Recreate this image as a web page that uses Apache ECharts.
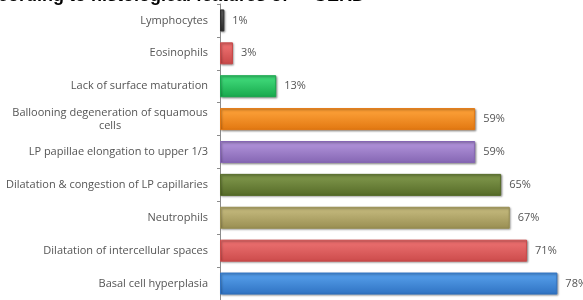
<!DOCTYPE html>
<html>
<head>
<meta charset="utf-8">
<script src="https://cdn.jsdelivr.net/npm/echarts@6/dist/echarts.min.js"></script>
<style>
  html, body { margin: 0; padding: 0; background: #fff; }
  #chart { width: 583px; height: 300px; }
</style>
</head>
<body>
<div id="chart"></div>
<script>
// categories, top to bottom
const categories = [
  "Lymphocytes",
  "Eosinophils",
  "Lack of surface maturation",
  "Ballooning degeneration of squamous\ncells",
  "LP papillae elongation to upper 1/3",
  "Dilatation & congestion of LP capillaries",
  "Neutrophils",
  "Dilatation of intercellular spaces",
  "Basal cell hyperplasia"
];
const percents = [1, 3, 13, 59, 59, 65, 67, 71, 78];
const barColors = [
  ["#5a5a5a", "#2e2e2e"],
  ["#e86a6a", "#c84848"],
  ["#3ad273", "#17a84c"],
  ["#f89a32", "#e27710"],
  ["#a98bd3", "#8566b3"],
  ["#788f45", "#566b28"],
  ["#bdb276", "#998e52"],
  ["#e66a6a", "#cc4b4b"],
  ["#4f97e3", "#2f72c2"]
];

const chart = echarts.init(document.getElementById("chart"));

function grad(c) {
  return new echarts.graphic.LinearGradient(0, 0, 0, 1, [
    { offset: 0, color: c[0] },
    { offset: 0.25, color: c[0] },
    { offset: 1, color: c[1] }
  ]);
}

const labelFont = "Open Sans, Liberation Sans, sans-serif";

const option = {
  animation: false,
  graphic: [
    {
      type: "text",
      left: -2,
      top: -13,
      style: {
        text: "cording to histological features of     GERD",
        fontFamily: "Liberation Sans, Arial",
        fontWeight: "bold",
        fontSize: 18,
        fill: "#000"
      }
    }
  ],
  grid: {
    left: 220,
    right: 17,
    top: 4,
    bottom: -7,
    containLabel: false
  },
  xAxis: {
    type: "value",
    min: 0,
    max: 80,
    show: false
  },
  yAxis: {
    type: "category",
    inverse: true,
    data: categories,
    axisLine: { lineStyle: { color: "#8c8c8c", width: 1 } },
    axisTick: { show: true, length: 3, lineStyle: { color: "#8c8c8c" } },
    axisLabel: {
      margin: 12,
      color: "#555",
      fontSize: 11,
      fontFamily: labelFont,
      formatter: function (v) {
        if (v.indexOf("\n") >= 0) {
          return v.split("\n").map(function (s) { return "{c|" + s + "}"; }).join("\n");
        }
        return v;
      },
      rich: {
        c: {
          width: 196,
          align: "center",
          color: "#555",
          fontSize: 11,
          lineHeight: 13,
          fontFamily: labelFont
        }
      }
    }
  },
  series: [
    {
      type: "bar",
      barWidth: 22,
      data: percents.map(function (v, i) {
        return {
          value: v,
          itemStyle: {
            color: grad(barColors[i]),
            borderColor: barColors[i][1],
            borderWidth: 1,
            shadowColor: "rgba(0,0,0,0.35)",
            shadowBlur: 2,
            shadowOffsetX: 1,
            shadowOffsetY: 1
          }
        };
      }),
      label: {
        show: true,
        position: "right",
        distance: 8,
        color: "#555",
        fontSize: 11,
        fontFamily: labelFont,
        formatter: "{c}%"
      }
    }
  ]
};

chart.setOption(option);
window.addEventListener("resize", function () {
  chart.resize();
});
</script>
</body>
</html>
